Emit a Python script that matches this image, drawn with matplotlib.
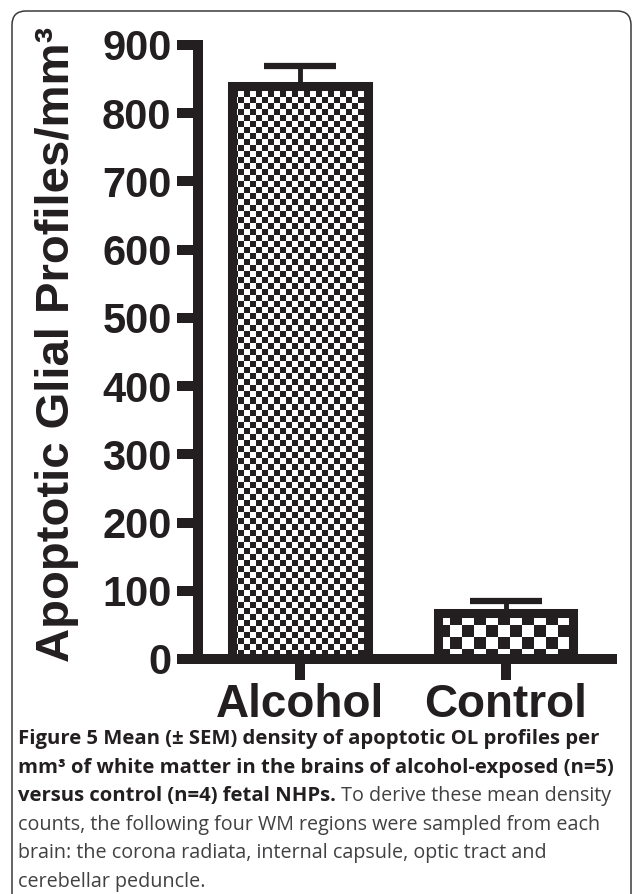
import numpy as np
import matplotlib
matplotlib.use('Agg')
import matplotlib.pyplot as plt
from matplotlib.colors import ListedColormap
from matplotlib.patches import FancyBboxPatch
from matplotlib.transforms import IdentityTransform

groups = ['Alcohol', 'Control']
means = [840, 67]
sems = [29, 18]
yticks = list(range(0, 1000, 100))
cell_px = [6, 12]   # checker square size of each bar's fill

caption = [
    [('Figure 5 Mean (± SEM) density of apoptotic OL profiles per', 'bold')],
    [('mm³ of white matter in the brains of alcohol-exposed (n=5)', 'bold')],
    [('versus control (n=4) fetal NHPs.', 'bold'), (' To derive these mean density', 'normal')],
    [('counts, the following four WM regions were sampled from each', 'normal')],
    [('brain: the corona radiata, internal capsule, optic tract and', 'normal')],
    [('cerebellar peduncle.', 'normal')],
]

ink = '#231f20'
grey = '#414042'
plt.rcParams['font.family'] = 'Liberation Sans'
plt.rcParams['font.weight'] = 'bold'

W, H = 633, 894
fig = plt.figure(figsize=(W / 100, H / 100), dpi=100)
ax = fig.add_axes([198 / W, 1 - 659 / H, 414 / W, 614 / H])
ax.set_xlim(-0.496, 1.518)
ax.set_ylim(0, 900)

x = np.arange(len(groups))
bars = ax.bar(x, means, width=0.66, facecolor='none', edgecolor=ink,
              linewidth=6.5, zorder=3)

# checkerboard fill, clipped to each bar
board_cmap = ListedColormap(['white', ink])
for b, c in zip(bars, cell_px):
    x0, y0, w, h = b.get_x(), b.get_y(), b.get_width(), b.get_height()
    p0 = ax.transData.transform((x0, y0))
    p1 = ax.transData.transform((x0 + w, y0 + h))
    nx = int(np.ceil((p1[0] - p0[0]) / c)) + 1
    ny = int(np.ceil((p1[1] - p0[1]) / c)) + 1
    cw = w / ((p1[0] - p0[0]) / c)
    ch = h / ((p1[1] - p0[1]) / c)
    board = np.indices((ny, nx)).sum(axis=0) % 2
    im = ax.imshow(board, cmap=board_cmap, interpolation='nearest', aspect='auto',
                   origin='upper', extent=(x0, x0 + nx * cw, y0 + h - ny * ch, y0 + h),
                   zorder=2)
    im.set_clip_path(b)

ax.errorbar(x, means, yerr=[np.zeros(len(sems)), sems], fmt='none', ecolor=ink,
            elinewidth=3.5, capsize=26, capthick=4.5, zorder=4)

ax.set_xlim(-0.496, 1.518)
ax.set_ylim(0, 900)
for s in ['top', 'right']:
    ax.spines[s].set_visible(False)
for s in ['left', 'bottom']:
    ax.spines[s].set_linewidth(7.2)
    ax.spines[s].set_color(ink)
    ax.spines[s].set_capstyle('projecting')

ax.set_yticks(yticks)
ax.set_xticks(x)
ax.set_xticklabels(groups)
ax.tick_params(axis='both', length=15, width=7.2, color=ink, labelcolor=ink)
ax.tick_params(axis='y', pad=4, labelsize=30)
ax.tick_params(axis='x', pad=2, labelsize=33)

fig.text(57 / W, 1 - 344 / H, 'Apoptotic Glial Profiles/mm³', rotation=90,
         ha='center', va='center', fontsize=34, fontweight='bold', color=ink)

# rounded frame around the figure panel
frame = FancyBboxPatch((12, -30), 619, H - 11 + 30, boxstyle='round,pad=0,rounding_size=14',
                       facecolor='none', edgecolor='#3a3a3a', linewidth=1.1,
                       transform=IdentityTransform())
fig.add_artist(frame)

# caption
renderer = fig.canvas.get_renderer()
capfont = 'Open Sans'

def fit_size(s, weight, target):
    t = fig.text(0, 0, s, fontsize=10, fontweight=weight, family=capfont)
    wpx = t.get_window_extent(renderer).width
    t.remove()
    return 10 * target / wpx

sizes = {'bold': fit_size(caption[0][0][0], 'bold', 583),
         'normal': fit_size(caption[3][0][0], 'normal', 582)}

base0, step = 744, 28.6
for i, line in enumerate(caption):
    xpx = 18
    for s, wt in line:
        t = fig.text(xpx / W, 1 - (base0 + i * step) / H, s, family=capfont,
                     fontweight=wt, fontsize=sizes[wt], va='baseline',
                     color=ink if wt == 'bold' else grey)
        xpx += t.get_window_extent(renderer).width

fig.savefig('out.png', dpi=100)
